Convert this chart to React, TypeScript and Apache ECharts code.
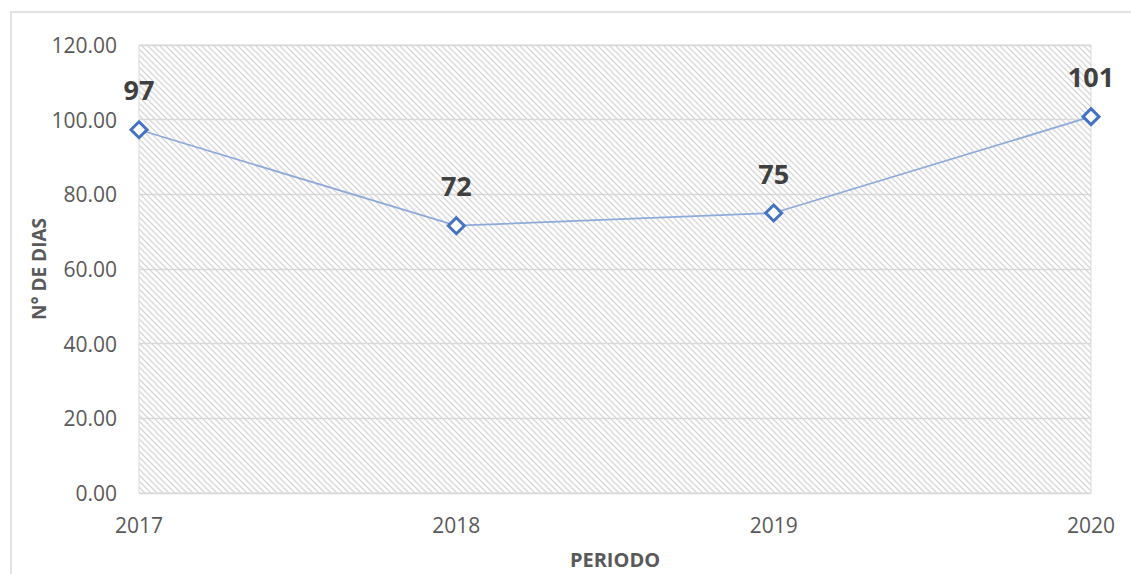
import React, { useEffect, useRef } from "react";
import * as echarts from "echarts";

const categories = ["2017", "2018", "2019", "2020"];
const values = [97.3, 71.6, 75.0, 100.8];
const labels = ["97", "72", "75", "101"];
const yTicks = { min: 0, max: 120, interval: 20 };

function makeHatch(): HTMLCanvasElement {
  const c = document.createElement("canvas");
  const s = 6;
  c.width = s;
  c.height = s;
  const ctx = c.getContext("2d")!;
  ctx.fillStyle = "#ffffff";
  ctx.fillRect(0, 0, s, s);
  ctx.strokeStyle = "#d6d6d6";
  ctx.lineWidth = 1.3;
  ctx.beginPath();
  ctx.moveTo(-1, -1);
  ctx.lineTo(s + 1, s + 1);
  ctx.moveTo(-1, s - 1);
  ctx.lineTo(1, s + 1);
  ctx.moveTo(s - 1, -1);
  ctx.lineTo(s + 1, 1);
  ctx.stroke();
  return c;
}

export default function App() {
  const ref = useRef<HTMLDivElement>(null);
  useEffect(() => {
    if (!ref.current) return;
    const chart = echarts.init(ref.current, undefined, { renderer: "svg" });
    const font = "'Open Sans', 'Noto Sans', sans-serif";
    chart.setOption({
      animation: false,
      backgroundColor: "#ffffff",
      textStyle: { fontFamily: font },
      graphic: [
        {
          type: "rect",
          shape: { x: 11, y: 12, width: 1300, height: 800 },
          style: { fill: "none", stroke: "#d9d9d9", lineWidth: 1.5 },
          silent: true,
          z: -10,
        },
      ],
      grid: {
        left: 139,
        right: 40,
        top: 45,
        bottom: 79,
        show: true,
        backgroundColor: { image: makeHatch(), repeat: "repeat" },
        borderColor: "#d9d9d9",
        borderWidth: 1,
      },
      xAxis: {
        type: "category",
        data: categories,
        boundaryGap: false,
        name: "PERIODO",
        nameLocation: "middle",
        nameGap: 56,
        nameTextStyle: { fontSize: 20, fontWeight: "bold", color: "#595959", fontFamily: font },
        axisLine: { lineStyle: { color: "#d9d9d9" } },
        axisTick: { show: false },
        axisLabel: { fontSize: 21, color: "#595959", margin: 21, fontFamily: font },
        splitLine: { show: false },
      },
      yAxis: {
        type: "value",
        min: yTicks.min,
        max: yTicks.max,
        interval: yTicks.interval,
        name: "N° DE DIAS",
        nameLocation: "middle",
        nameGap: 91,
        nameMoveOverlap: false,
        nameRotate: 90,
        nameTextStyle: { fontSize: 19, fontWeight: "bold", color: "#595959", fontFamily: font },
        axisLine: { show: false },
        axisTick: { show: false },
        axisLabel: {
          fontSize: 21,
          color: "#595959",
          margin: 22,
          fontFamily: font,
          formatter: (v: number) => v.toFixed(2),
        },
        splitLine: { lineStyle: { color: "#d9d9d9", width: 1.3 } },
      },
      series: [
        {
          type: "line",
          data: values.map((v, i) => ({
            value: v,
            label: { formatter: labels[i] },
          })),
          symbol: "diamond",
          symbolSize: 16,
          lineStyle: { color: "#8eaadb", width: 1.8 },
          itemStyle: { color: "#ffffff", borderColor: "#4472c4", borderWidth: 3 },
          label: {
            show: true,
            position: "top",
            distance: 17,
            fontSize: 27,
            fontWeight: "bold",
            color: "#404040",
            fontFamily: font,
          },
          z: 5,
        },
      ],
    });
    return () => chart.dispose();
  }, []);
  return (
    <div
      ref={ref}
      style={{ position: "absolute", left: 0, top: 0, width: 1131, height: 574 }}
    />
  );
}
